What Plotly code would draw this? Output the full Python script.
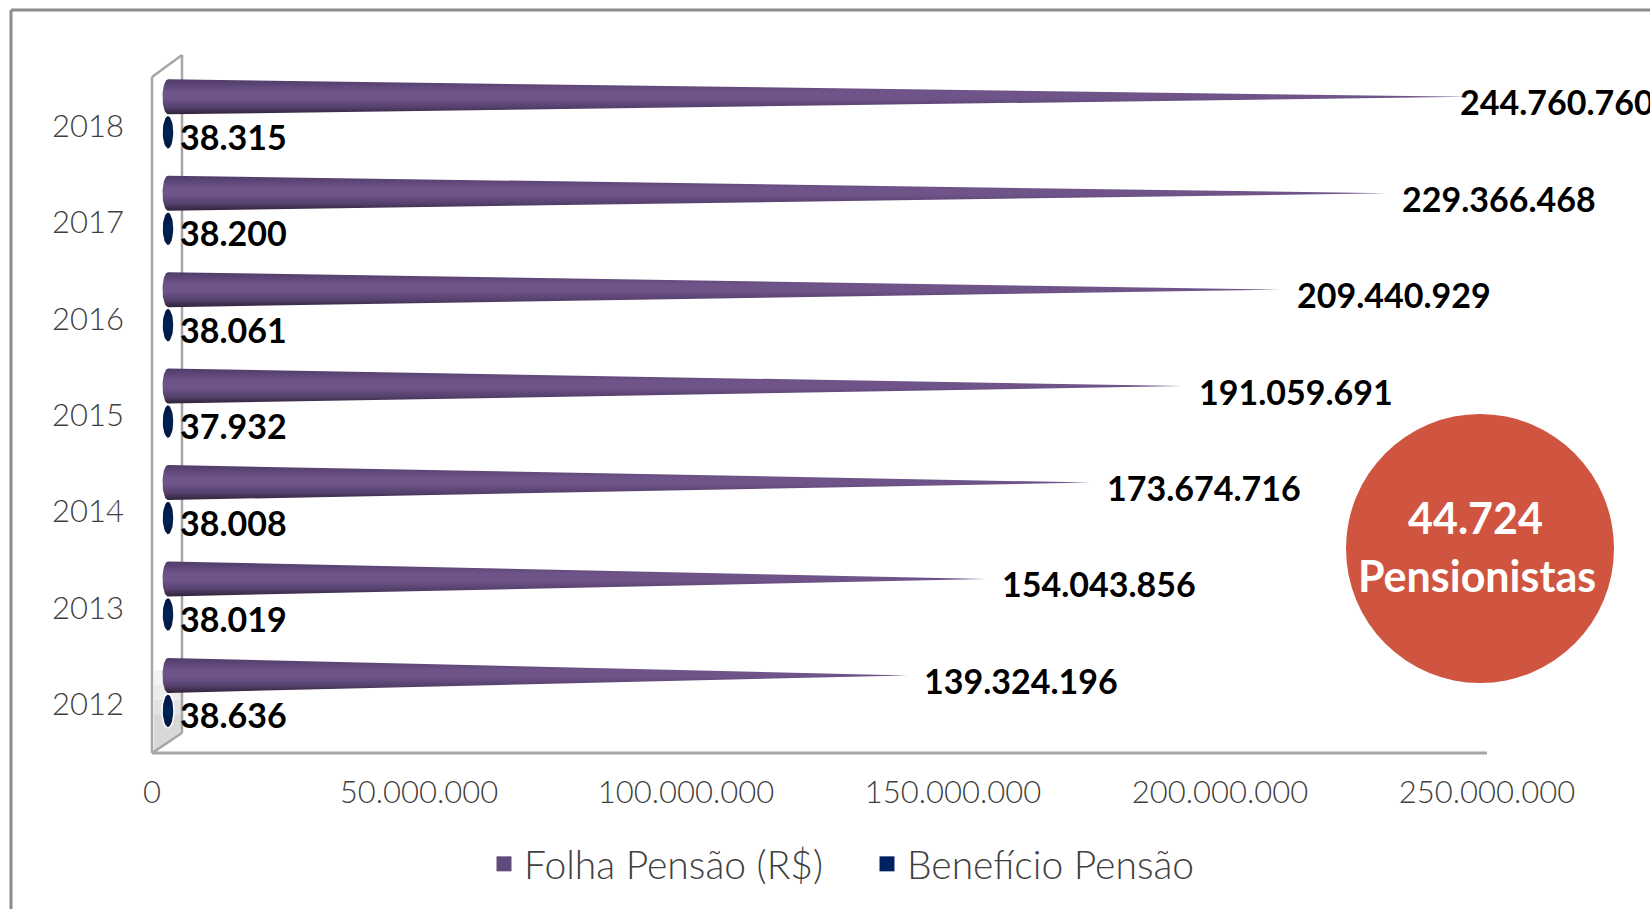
import math
import plotly.graph_objects as go

# ---- data ----
years = ["2012", "2013", "2014", "2015", "2016", "2017", "2018"]
folha = [139324196, 154043856, 173674716, 191059691, 209440929, 229366468, 244760760]
beneficio = [38636, 38019, 38008, 37932, 38061, 38200, 38315]
x_ticks = [0, 50000000, 100000000, 150000000, 200000000, 250000000]

W, H = 1650, 909
FRONT_X0, FRONT_X1 = 152, 1487
BACK_X0, BACK_X1 = 168, 1496
BACK_PAD = 12
FRONT_TOP, FRONT_BOT = 77.6, 752.6
DEPTH_Y = 11.5
AXIS_MAX = 250000000
PX_PER_X = (BACK_X1 - BACK_X0) / AXIS_MAX
PX_PER_Y = (FRONT_BOT - FRONT_TOP) / 7
FONT = "Lato"
TEXT = "#404040"

def fmt(v):
    return f"{v:,}".replace(",", ".")

def px(x):
    return x / W

def py(y):
    return 1 - y / H

def cone(center, value, offset_px, half_h_px, semi_x_px):
    """Cone outline in data units: elliptical base plus the tip at the value."""
    d = value * PX_PER_X
    t0 = math.acos(semi_x_px / d) if d > semi_x_px else 0.0
    n = 40
    xs, ys = [], []
    yc = center + offset_px / PX_PER_Y
    for i in range(n + 1):
        t = t0 + (2 * math.pi - 2 * t0) * i / n
        xs.append(semi_x_px * math.cos(t) / PX_PER_X)
        ys.append(yc + half_h_px * math.sin(t) / PX_PER_Y)
    if d > semi_x_px:
        xs.append(value)
        ys.append(yc)
    xs.append(xs[0])
    ys.append(ys[0])
    return xs, ys

PURPLE_SCALE = [[0, "#2f2238"], [0.2, "#55406c"], [0.45, "#6e5489"], [0.65, "#6e5489"], [1, "#4f3b68"]]
NAVY_SCALE = [[0, "#00143c"], [0.5, "#002457"], [1, "#00143c"]]

fig = go.Figure()
for i, yr in enumerate(years):
    xs, ys = cone(i, beneficio[i], -18, 17, 6)
    fig.add_trace(go.Scatter(x=xs, y=ys, xaxis="x2", yaxis="y2", mode="lines", cliponaxis=False,
                             line=dict(width=1.5, color="white"), fill="toself",
                             fillgradient=dict(type="vertical", colorscale=NAVY_SCALE),
                             showlegend=False, hoverinfo="skip"))
    xs, ys = cone(i, folha[i], 17.5, 17.5, 5.5)
    fig.add_trace(go.Scatter(x=xs, y=ys, xaxis="x2", yaxis="y2", mode="lines", cliponaxis=False,
                             line=dict(width=0), fill="toself",
                             fillgradient=dict(type="vertical", colorscale=PURPLE_SCALE),
                             showlegend=False, hoverinfo="skip"))

fig.add_trace(go.Scatter(x=[None], y=[None], mode="markers", name="Folha Pensão (R$)",
                         marker=dict(symbol="square", size=15, color="#604a7b")))
fig.add_trace(go.Scatter(x=[None], y=[None], mode="markers", name="Benefício Pensão",
                         marker=dict(symbol="square", size=15, color="#002060")))

BOLD = dict(family=FONT, size=34, color="black", weight="bold")
ann = []
label_limit = 1458
for i, v in enumerate(folha):
    tip = BACK_X0 + v * PX_PER_X
    ann.append(dict(x=v, y=i, xref="x2", yref="y2", text=fmt(v), showarrow=False,
                    xanchor="left", yanchor="middle",
                    xshift=min(tip + 14, label_limit) - tip, yshift=12.5, font=BOLD))
for i, v in enumerate(beneficio):
    ann.append(dict(x=v, y=i, xref="x2", yref="y2", text=fmt(v), showarrow=False,
                    xanchor="left", yanchor="middle", xshift=10, yshift=-22, font=BOLD))
CIRCLE_FONT = dict(family=FONT, size=43, color="white", weight="bold")
ann.append(dict(x=px(1475), y=py(517), xref="paper", yref="paper", text="44.724", showarrow=False,
                xanchor="center", yanchor="middle", font=CIRCLE_FONT))
ann.append(dict(x=px(1477), y=py(575), xref="paper", yref="paper", text="Pensionistas", showarrow=False,
                xanchor="center", yanchor="middle", font=CIRCLE_FONT))

WALL = "#a6a6a6"
def seg(x0, y0, x1, y1, color=WALL, width=2.5, layer="below"):
    return dict(type="line", xref="paper", yref="paper", x0=px(x0), y0=py(y0), x1=px(x1), y1=py(y1),
                line=dict(color=color, width=width), layer=layer)

def wall_band(y_top, color):
    return dict(type="path", xref="paper", yref="paper", layer="below",
                path=f"M {px(154)} {py(y_top)} L {px(182)} {py(y_top)} L {px(182)} {py(733)} L {px(154)} {py(753)} Z",
                fillcolor=color, line=dict(width=0))

shapes = [
    seg(11, 10, 1650, 10, "#8c8c8c", 3),
    seg(11, 10, 11, 909, "#8c8c8c", 3),
    wall_band(670, "#f4f4f4"),
    wall_band(685, "#ececec"),
    wall_band(700, "#e2e2e2"),
    wall_band(715, "#d8d8d8"),
    seg(152, 77, 152, 753),
    seg(182, 55, 182, 733),
    seg(152, 77, 182, 55),
    seg(152, 753, 182, 733),
    seg(152, 753, 1487, 753, WALL, 3),
    dict(type="circle", xref="paper", yref="paper", x0=px(1346), x1=px(1614), y0=py(683), y1=py(414),
         fillcolor="#cf5540", line=dict(width=0), layer="below"),
]

fig.update_layout(
    width=W, height=H, margin=dict(l=0, r=0, t=0, b=0, pad=0, autoexpand=False),
    paper_bgcolor="white", plot_bgcolor="rgba(0,0,0,0)",
    font=dict(family=FONT, color=TEXT),
    xaxis=dict(domain=[px(FRONT_X0), px(FRONT_X1)], range=[0, AXIS_MAX], tickvals=x_ticks,
               ticktext=[fmt(v) for v in x_ticks], showgrid=False, zeroline=False, showline=False,
               ticks="", tickfont=dict(family=FONT, size=31, color=TEXT, weight=300), ticklabelstandoff=18),
    xaxis2=dict(domain=[px(BACK_X0 - BACK_PAD), px(BACK_X1)], range=[-BACK_PAD / PX_PER_X, AXIS_MAX],
                anchor="y2", visible=False),
    yaxis=dict(domain=[py(FRONT_BOT), py(FRONT_TOP)], range=[-0.5, 6.5], tickvals=list(range(7)),
               ticktext=years, showgrid=False, zeroline=False, showline=False, ticks="",
               tickfont=dict(family=FONT, size=31, color=TEXT, weight=300), ticklabelstandoff=27),
    yaxis2=dict(domain=[py(FRONT_BOT - DEPTH_Y), py(FRONT_TOP - DEPTH_Y)], range=[-0.5, 6.5],
                anchor="x2", visible=False),
    legend=dict(orientation="h", x=px(484), y=py(864), xanchor="left", yanchor="middle",
                entrywidth=338, entrywidthmode="pixels",
                font=dict(family=FONT, size=39, color=TEXT, weight=300), bgcolor="rgba(0,0,0,0)"),
    annotations=ann, shapes=shapes,
)
fig.write_html("out.html", config=dict(displayModeBar=False),
               post_script="document.body.style.margin='0';document.body.style.overflow='hidden';")
